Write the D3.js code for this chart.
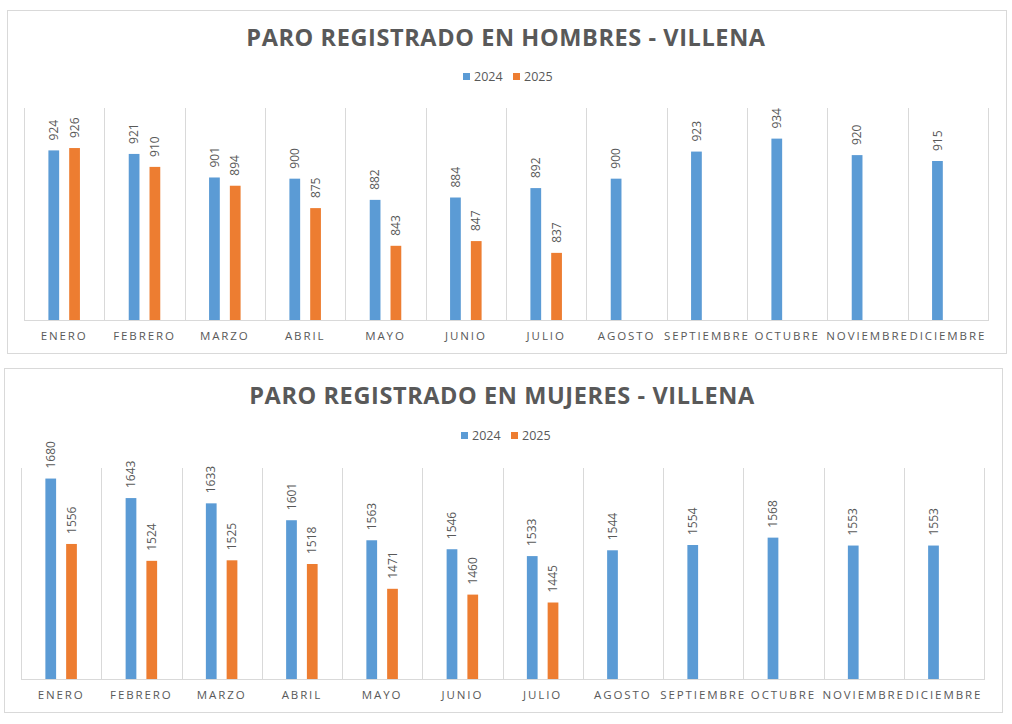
<!DOCTYPE html>
<html><head><meta charset="utf-8">
<script src="https://cdn.jsdelivr.net/npm/d3@7"></script>
<style>
body{margin:0;background:#fff;font-family:"Open Sans",sans-serif;}
svg{display:block;}
</style></head>
<body><svg id="c" width="1012" height="724"></svg>
<script>
const months = ["ENERO","FEBRERO","MARZO","ABRIL","MAYO","JUNIO","JULIO","AGOSTO","SEPTIEMBRE","OCTUBRE","NOVIEMBRE","DICIEMBRE"];
const series = ["2024","2025"];
const hombres2024 = [924,921,901,900,882,884,892,900,923,934,920,915];
const hombres2025 = [926,910,894,875,843,847,837,null,null,null,null,null];
const mujeres2024 = [1680,1643,1633,1601,1563,1546,1533,1544,1554,1568,1553,1553];
const mujeres2025 = [1556,1524,1525,1518,1471,1460,1445,null,null,null,null,null];
const titles = ["PARO REGISTRADO EN HOMBRES - VILLENA","PARO REGISTRADO EN MUJERES - VILLENA"];
const yDomains = [[780,960],[1300,1700]];
const colors = {"2024":"#5B9BD5","2025":"#ED7D31"};
const textCol = "#595959", gridCol = "#D9D9D9";

const svg = d3.select("#c");

function drawChart(cfg){
  const g = svg.append("g");
  g.append("rect").attr("x",cfg.box[0]+0.5).attr("y",cfg.box[1]+0.5)
    .attr("width",cfg.box[2]-cfg.box[0]).attr("height",cfg.box[3]-cfg.box[1])
    .attr("fill","#fff").attr("stroke",gridCol);
  // title
  g.append("text").attr("x",cfg.titleX).attr("y",cfg.titleY)
    .attr("text-anchor","middle").attr("font-size",23.5).attr("font-weight",700)
    .attr("letter-spacing","0.6px").attr("fill",textCol).text(cfg.title);
  // legend
  series.forEach((s,i)=>{
    const lx = cfg.legX + i*50;
    g.append("rect").attr("x",lx).attr("y",cfg.legY-4).attr("width",7).attr("height",7).attr("fill",colors[s]);
    g.append("text").attr("x",lx+11).attr("y",cfg.legY).attr("dy","0.35em")
      .attr("font-size",12.5).attr("fill",textCol).text(s);
  });
  const x0 = d3.scaleBand().domain(months).range([cfg.left,cfg.right]).paddingInner(0).paddingOuter(0);
  const x1 = d3.scaleBand().domain(series).range([0,x0.bandwidth()]).paddingInner(0.483).paddingOuter(1.174);
  const y = d3.scaleLinear().domain(cfg.yDomain).range([cfg.bottom,cfg.top]);
  // gridlines (vertical category separators)
  const bounds = months.map(m=>x0(m)).concat([cfg.right]);
  g.selectAll(".grid").data(bounds).join("line")
    .attr("x1",d=>Math.round(d)+0.5).attr("x2",d=>Math.round(d)+0.5)
    .attr("y1",cfg.top).attr("y2",cfg.bottom).attr("stroke",gridCol);
  g.append("line").attr("x1",cfg.left).attr("x2",cfg.right+1)
    .attr("y1",cfg.bottom+0.5).attr("y2",cfg.bottom+0.5).attr("stroke",gridCol);
  // bars
  const data = [];
  months.forEach((m,i)=>{
    series.forEach((s,j)=>{
      const v = cfg.values[j][i];
      if(v!=null) data.push({m,s,v});
    });
  });
  g.selectAll(".bar").data(data).join("rect")
    .attr("x",d=>x0(d.m)+x1(d.s)).attr("width",x1.bandwidth())
    .attr("y",d=>y(d.v)).attr("height",d=>cfg.bottom-y(d.v))
    .attr("fill",d=>colors[d.s]);
  g.selectAll(".lab").data(data).join("text")
    .attr("transform",d=>`translate(${x0(d.m)+x1(d.s)+x1.bandwidth()/2},${y(d.v)-10}) rotate(-90)`)
    .attr("dy","0.35em").attr("text-anchor","start")
    .attr("font-size",12).attr("fill",textCol).text(d=>d.v);
  // axis labels
  const ax = g.append("g").attr("transform",`translate(0,${cfg.bottom})`)
    .call(d3.axisBottom(x0).tickSize(0).tickPadding(0));
  ax.select(".domain").remove();
  ax.selectAll("text").attr("y",cfg.labelDy).attr("dy","0.35em")
    .attr("font-family","Open Sans").attr("font-size",11.5).attr("letter-spacing","1.9px")
    .attr("fill",textCol);
}

drawChart({box:[7,10,1006,353],title:titles[0],titleX:506,titleY:46,legX:463,legY:77,
  left:24,right:988,top:108,bottom:320,yDomain:yDomains[0],values:[hombres2024,hombres2025],labelDy:16});
drawChart({box:[4,368,1002,712],title:titles[1],titleX:502,titleY:404,legX:461,legY:436,
  left:21,right:984,top:468,bottom:679,yDomain:yDomains[1],values:[mujeres2024,mujeres2025],labelDy:16});
</script></body></html>
